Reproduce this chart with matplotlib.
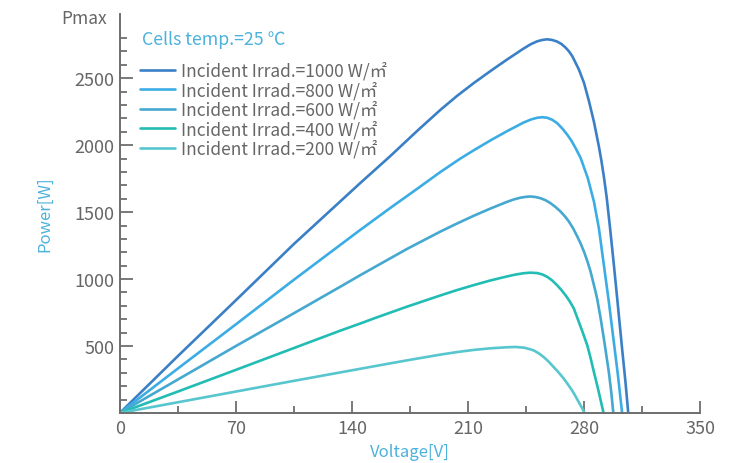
import matplotlib
matplotlib.use("Agg")
import matplotlib.pyplot as plt
from matplotlib.ticker import FixedLocator

plt.rcParams['font.family'] = ['Noto Sans CJK SC', 'DejaVu Sans']

# values (voltage V, power W)
v_1000 = [0, 35, 70, 105, 145, 163, 180, 193.4, 203.4, 213.5, 223.6, 233.6, 243.7, 248, 251.8, 254.8,
          257.8, 260.8, 263.8, 266.5, 268.9, 271, 272.9, 276.9, 280, 283, 286, 289, 290.5, 292,
          293.7, 295.7, 298, 300, 303, 305, 306.7]
p_1000 = [0, 425, 842, 1262, 1717, 1917, 2114, 2264, 2368, 2464, 2554, 2640, 2723, 2755, 2776, 2786,
          2791, 2786, 2774, 2755, 2729, 2700, 2666, 2566, 2466, 2329, 2175, 1990, 1885, 1765,
          1610, 1385, 1110, 860, 480, 235, 0]

v_800 = [0, 35, 70, 105, 145, 163, 180, 193.4, 205.4, 213.5, 223.6, 233.6, 243.7, 248, 251.8, 254.8,
         257.8, 260.8, 263.8, 266.9, 269.9, 272.5, 274.9, 278, 282.3, 286, 289, 292, 295, 298,
         300.5, 303]
p_800 = [0, 332, 662, 995, 1367, 1530, 1680, 1800, 1900, 1962, 2036, 2105, 2170, 2192, 2205, 2209,
         2205, 2190, 2165, 2125, 2079, 2032, 1979, 1904, 1754, 1579, 1379, 1104, 830, 530,
         280, 0]

v_600 = [0, 35, 70, 105, 133, 145, 173.2, 193.4, 203.4, 213.5, 223.6, 233.6, 237.7, 241.7, 244.7,
         247.7, 250.8, 253.8, 256.8, 259.8, 262.9, 265.9, 268.4, 270.9, 273.5, 276, 278, 280, 282,
         284, 285.5, 287, 288, 290, 292, 295, 296.5, 297.7]
p_600 = [0, 250, 500, 745, 943, 1029, 1225, 1355, 1415, 1473, 1527, 1577, 1595, 1608, 1614,
         1617, 1613, 1604, 1589, 1567, 1538, 1504, 1470, 1430, 1378, 1317, 1265, 1205, 1135,
         1055, 980, 905, 850, 710, 555, 305, 150, 0]

v_400 = [0, 35, 70, 105, 133, 145, 153, 173, 193.4, 203.4, 213.5, 223.6, 233.6, 238.7, 243.7, 247.7,
         251.8, 254.8, 257.8, 260.8, 263.8, 266.4, 268.9, 271.5, 273.9, 276, 279, 282, 284, 286,
         288, 289.6, 291.8]
p_400 = [0, 160, 322, 485, 615, 668, 705, 793, 878, 918, 955, 990, 1020, 1034, 1044, 1048,
         1045, 1035, 1017, 990, 954, 918, 879, 832, 780, 710, 610, 505, 410, 305,
         205, 120, 0]

v_200 = [0, 35, 70, 105, 133, 145, 153, 173.2, 193.4, 203.4, 213.5, 223.6, 233.6, 238.7, 243.7,
         246.7, 249.7, 252.8, 255.8, 258.8, 261.8, 264.9, 267.9, 270.4, 272.9, 274.9, 276.9,
         278.7, 280.4]
p_200 = [0, 80, 160, 240, 303, 330, 348, 393, 436, 455, 471, 483, 491, 493, 488,
         479, 467, 445, 417, 382, 342, 300, 255, 212, 167, 125, 80,
         40, 0]

irrad = [1000, 800, 600, 400, 200]
colors = ['#3b80c6', '#3cade4', '#45a8d0', '#21bdb4', '#58c6ce']

series = [(v_1000, p_1000), (v_800, p_800), (v_600, p_600), (v_400, p_400), (v_200, p_200)]

fig = plt.figure(figsize=(7.49, 4.64), dpi=100)
ax = fig.add_axes([0.160, 0.1078, 0.7746, 0.8599])

for (v, p), irr, c in zip(series, irrad, colors):
    ax.plot(v, p, color=c, lw=1.9, solid_joinstyle='round', solid_capstyle='round',
            label=f'Incident Irrad.={irr} W/㎡')

ax.set_xlim(0, 350)
ax.set_ylim(0, 2980)

axis_grey = '#6e6e6e'
text_grey = '#666666'
label_blue = '#4cb2db'
for s in ['top', 'right']:
    ax.spines[s].set_visible(False)
for s in ['left', 'bottom']:
    ax.spines[s].set_color(axis_grey)
    ax.spines[s].set_linewidth(1.4)

ax.set_xticks([0, 70, 140, 210, 280, 350])
ax.xaxis.set_minor_locator(FixedLocator([35, 105, 175, 245, 315]))
ax.set_yticks([500, 1000, 1500, 2000, 2500])
ax.yaxis.set_minor_locator(FixedLocator([v for v in range(100, 2900, 100) if v % 500]))

ax.tick_params(which='both', direction='in', color=axis_grey, width=1.3,
               labelcolor=text_grey, labelsize=13)
ax.tick_params(which='major', length=9, pad=4)
ax.tick_params(which='minor', length=5)

ax.text(-0.022, 0.99, 'Pmax', transform=ax.transAxes, ha='right', va='center',
        color=text_grey, fontsize=12.5)

ax.set_xlabel('Voltage[V]', color=label_blue, fontsize=12)
ax.xaxis.set_label_coords(0.5, -0.0955)
ax.xaxis.label.set_verticalalignment('center')
ax.set_ylabel('Power[W]', color=label_blue, fontsize=12)
ax.yaxis.set_label_coords(-0.129, 0.5)
ax.yaxis.label.set_verticalalignment('center')

ax.text(0.038, 0.937, 'Cells temp.=25 ℃', transform=ax.transAxes, ha='left', va='center',
        color=label_blue, fontsize=12.8)

leg = ax.legend(loc='upper left', bbox_to_anchor=(0.035, 0.882), frameon=False,
                fontsize=12.5, handlelength=2.0, handletextpad=0.35,
                labelspacing=0.06, borderaxespad=0, borderpad=0)
for t in leg.get_texts():
    t.set_color(text_grey)

fig.savefig('out.png', dpi=100)
